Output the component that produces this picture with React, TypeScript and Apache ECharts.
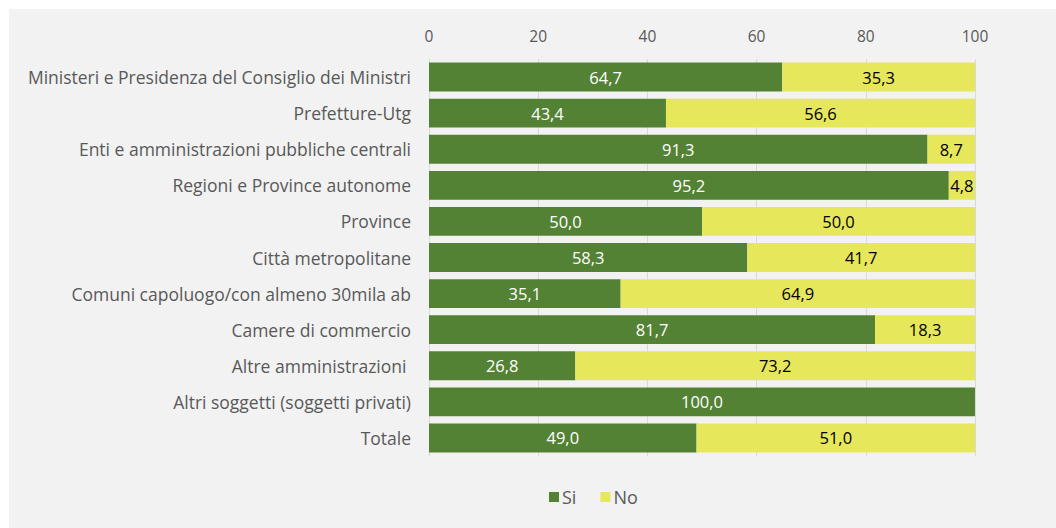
import React, { useEffect, useRef } from "react";
import * as echarts from "echarts";

const categories = [
  "Ministeri e Presidenza del Consiglio dei Ministri",
  "Prefetture-Utg",
  "Enti e amministrazioni pubbliche centrali",
  "Regioni e Province autonome",
  "Province",
  "Città metropolitane",
  "Comuni capoluogo/con almeno 30mila ab",
  "Camere di commercio",
  "Altre amministrazioni ",
  "Altri soggetti (soggetti privati)",
  "Totale",
];
const siValues = [64.7, 43.4, 91.3, 95.2, 50.0, 58.3, 35.1, 81.7, 26.8, 100.0, 49.0];
const noValues = [35.3, 56.6, 8.7, 4.8, 50.0, 41.7, 64.9, 18.3, 73.2, 0, 51.0];
const seriesNames = ["Si", "No"];

const FONT = "'Open Sans', 'Noto Sans', sans-serif";

const fmt = (p: any) => (p.value === 0 ? "" : Number(p.value).toFixed(1).replace(".", ","));

export default function App() {
  const ref = useRef<HTMLDivElement>(null);
  useEffect(() => {
    if (!ref.current) return;
    const chart = echarts.init(ref.current, undefined, { renderer: "svg" });
    chart.setOption({
      animation: false,
      backgroundColor: "#f2f2f2",
      textStyle: { fontFamily: FONT },
      grid: { left: 420, right: 81, top: 50, bottom: 72 },
      legend: {
        data: seriesNames,
        left: 535,
        top: 474,
        itemWidth: 10,
        itemHeight: 10,
        itemGap: 24,
        icon: "rect",
        textStyle: { color: "#595959", fontSize: 18, fontFamily: FONT, padding: [0, 0, 0, -2] },
      },
      xAxis: {
        type: "value",
        position: "top",
        min: 0,
        max: 100,
        interval: 20,
        axisLine: { show: false },
        axisTick: { show: false },
        axisLabel: { color: "#595959", fontSize: 15.5, margin: 15, fontFamily: FONT },
        splitLine: { show: true, lineStyle: { color: "#d9d9d9", width: 1 } },
      },
      yAxis: {
        type: "category",
        inverse: true,
        data: categories,
        axisLine: { show: true, lineStyle: { color: "#d9d9d9" } },
        axisTick: { show: false },
        axisLabel: { color: "#595959", fontSize: 17.5, margin: 18, fontFamily: FONT },
      },
      series: [
        {
          name: seriesNames[0],
          type: "bar",
          stack: "tot",
          data: siValues,
          barCategoryGap: "20%",
          itemStyle: { color: "#548235" },
          label: { show: true, position: "inside", color: "#ffffff", fontSize: 16.5, fontFamily: FONT, formatter: fmt },
        },
        {
          name: seriesNames[1],
          type: "bar",
          stack: "tot",
          data: noValues,
          barCategoryGap: "20%",
          itemStyle: { color: "#e7e75b" },
          label: { show: true, position: "inside", color: "#000000", fontSize: 16.5, fontFamily: FONT, formatter: fmt },
        },
      ],
    });
    return () => chart.dispose();
  }, []);
  return (
    <div
      ref={ref}
      style={{ position: "absolute", left: 9, top: 9, width: 1047, height: 519 }}
    />
  );
}
